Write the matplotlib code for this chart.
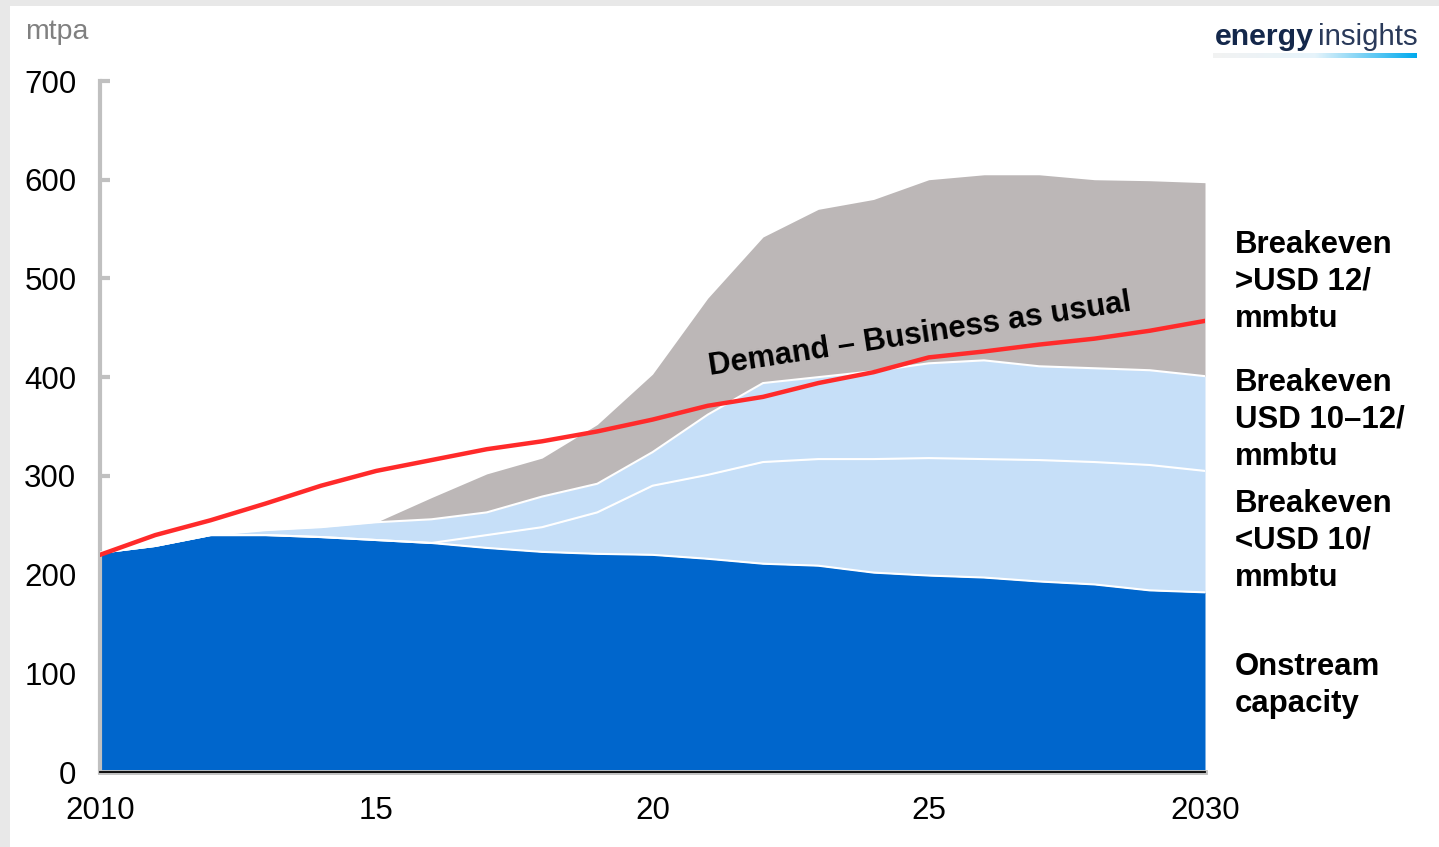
import numpy as np
import matplotlib
matplotlib.use("Agg")
import matplotlib.pyplot as plt
from matplotlib.patches import Rectangle
from matplotlib.colors import LinearSegmentedColormap

plt.rcParams['font.family'] = ['Liberation Sans', 'DejaVu Sans']

years = list(range(2010, 2031))
onstream = [222, 229, 240, 240, 238, 235, 232, 227, 223, 221, 220, 216, 211, 209, 202, 199, 197, 193, 190, 184, 182]
be_lt10 = [0, 0, 0, 0, 0, 0, 0, 13, 25, 42, 70, 85, 103, 108, 115, 119, 120, 123, 124, 127, 123]
be_10_12 = [0, 0, 0, 5, 10, 18, 24, 23, 31, 29, 34, 61, 80, 83, 89, 96, 100, 95, 95, 96, 96]
be_gt12 = [0, 0, 0, 0, 0, 0, 22, 39, 39, 60, 79, 118, 148, 170, 174, 186, 188, 194, 191, 192, 196]
demand = [220, 240, 255, 272, 290, 305, 316, 327, 335, 345, 357, 371, 380, 394, 405, 420, 426, 433, 439, 447, 457]

xtick_pos = [2010, 2015, 2020, 2025, 2030]
xtick_labels = ["2010", "15", "20", "25", "2030"]
ytick_pos = [0, 100, 200, 300, 400, 500, 600, 700]

W, H = 1439, 847
fig = plt.figure(figsize=(W / 100, H / 100), dpi=100)
fig.patch.set_facecolor('#e8e8e8')
fig.patches.append(Rectangle((10 / W, 0), 1, 1 - 6 / H, transform=fig.transFigure,
                             facecolor='white', edgecolor='none', zorder=-10))

ax = fig.add_axes([100 / W, 75 / H, (1205 - 100) / W, (772 - 81) / H])
ax.set_facecolor('none')

x = np.array(years)
c0 = np.array(onstream, dtype=float)
c1 = c0 + np.array(be_lt10)
c2 = c1 + np.array(be_10_12)
c3 = c2 + np.array(be_gt12)

ax.fill_between(x, 0, c0, color='#0066CC', lw=0, zorder=2)
ax.fill_between(x, c0, c1, color='#C6DFF8', lw=0, zorder=2)
ax.fill_between(x, c1, c2, color='#C6DFF8', lw=0, zorder=2)
ax.fill_between(x, c2, c3, color='#BCB7B7', lw=0, zorder=2)
for c in (c0, c1, c2):
    ax.plot(x, c, color='white', lw=1.5, zorder=3)

ax.plot(x, demand, color='#FF2A2A', lw=3.2, zorder=5, solid_capstyle='round')

ax.set_xlim(2010, 2030)
ax.set_ylim(0, 700)
ax.set_xticks(xtick_pos)
ax.set_xticklabels(xtick_labels)
ax.set_yticks(ytick_pos)
ax.tick_params(axis='x', length=0, pad=17, labelsize=22.5)
ax.tick_params(axis='y', direction='in', length=7, width=3, color='#c0c0c0',
               pad=17, labelsize=22.5)
for s in ('top', 'right'):
    ax.spines[s].set_visible(False)
ax.spines['left'].set_color('#c0c0c0')
ax.spines['left'].set_linewidth(3)
ax.spines['bottom'].set_color('#c0c0c0')
ax.spines['bottom'].set_linewidth(3.5)
ax.spines['bottom'].set_zorder(6)
ax.axhline(0, color='black', lw=1.3, zorder=7, clip_on=False)

# unit label
fig.text(25 / W, 1 - 32 / H, "mtpa", color='#808080', fontsize=20.5, ha='left', va='center')

# demand annotation
ax.text(2021.04, 402, "Demand – Business as usual", rotation=8.7, rotation_mode='anchor',
        ha='left', va='baseline', fontsize=22.3, fontweight='bold', color='black', zorder=8)

# right labels
def rlab(ytop_px, txt):
    fig.text(1235 / W, 1 - ytop_px / H, txt, fontsize=22.4, fontweight='bold',
             ha='left', va='top', linespacing=1.3)

rlab(230, "Breakeven\n>USD 12/\nmmbtu")
rlab(368, "Breakeven\nUSD 10–12/\nmmbtu")
rlab(489, "Breakeven\n<USD 10/\nmmbtu")
rlab(652, "Onstream\ncapacity")

# logo
fig.text(1215 / W, 1 - 45 / H, "energy", fontsize=21.8, fontweight='bold',
         color='#14284b', ha='left', va='baseline')
fig.text(1318 / W, 1 - 45 / H, "insights", fontsize=21.2, color='#2a3a5a',
         ha='left', va='baseline')
lax = fig.add_axes([1213 / W, 1 - 58 / H, (1417 - 1213) / W, 5 / H])
cmap = LinearSegmentedColormap.from_list('g', ['#f2f2f2', '#e6f4fb', '#00aaee'])
lax.imshow(np.linspace(0, 1, 256).reshape(1, -1), aspect='auto', cmap=cmap)
lax.axis('off')

fig.savefig('out.png', dpi=100, facecolor=fig.get_facecolor())
